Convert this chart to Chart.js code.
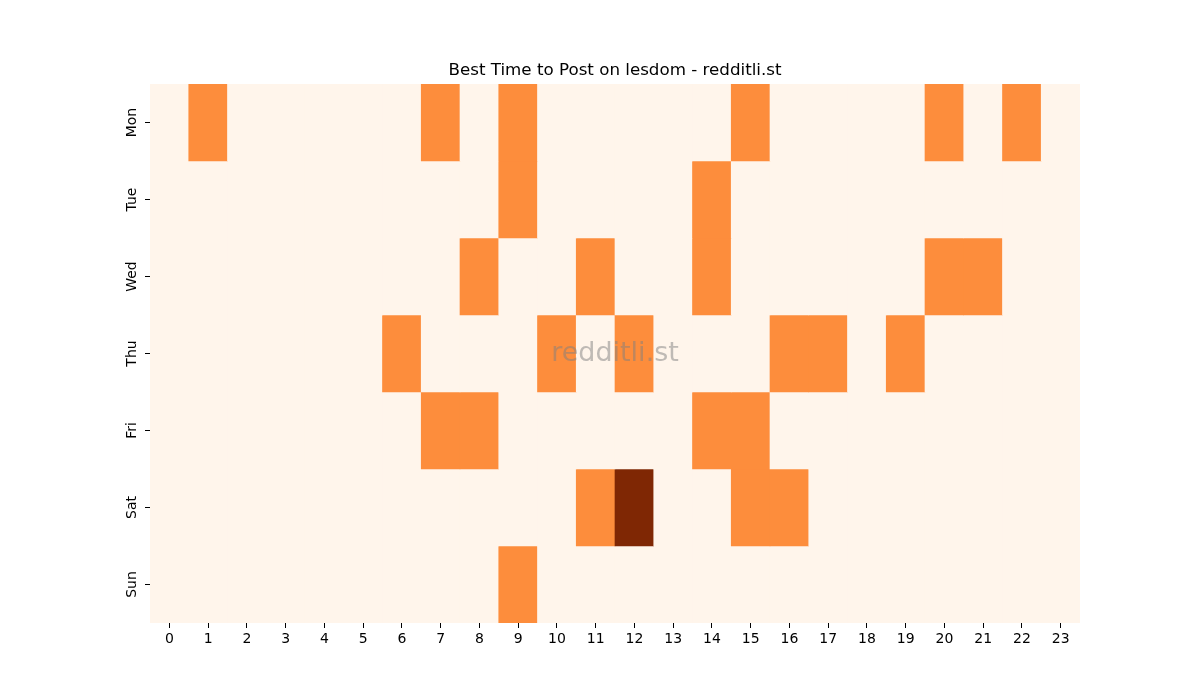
<!DOCTYPE html>
<html>
<head>
<meta charset="utf-8">
<script src="https://cdn.jsdelivr.net/npm/chart.js@4.4.0/dist/chart.umd.min.js"></script>
<style>
  html, body { margin: 0; padding: 0; background: #fff; }
  #wrap { width: 1200px; height: 700px; }
</style>
</head>
<body>
<div id="wrap"><canvas id="heat"></canvas></div>
<script>
// hours on x, days on y
var hours = ['0','1','2','3','4','5','6','7','8','9','10','11','12','13','14','15','16','17','18','19','20','21','22','23'];
var days = ['Mon', 'Tue', 'Wed', 'Thu', 'Fri', 'Sat', 'Sun'];

// posts per hour, one row per day
var mon = [0,1,0,0,0,0,0,1,0,1,0,0,0,0,0,1,0,0,0,0,1,0,1,0];
var tue = [0,0,0,0,0,0,0,0,0,1,0,0,0,0,1,0,0,0,0,0,0,0,0,0];
var wed = [0,0,0,0,0,0,0,0,1,0,0,1,0,0,1,0,0,0,0,0,1,1,0,0];
var thu = [0,0,0,0,0,0,1,0,0,0,1,0,1,0,0,0,1,1,0,1,0,0,0,0];
var fri = [0,0,0,0,0,0,0,1,1,0,0,0,0,0,1,1,0,0,0,0,0,0,0,0];
var sat = [0,0,0,0,0,0,0,0,0,0,0,1,2,0,0,1,1,0,0,0,0,0,0,0];
var sun = [0,0,0,0,0,0,0,0,0,1,0,0,0,0,0,0,0,0,0,0,0,0,0,0];

var rows = [mon, tue, wed, thu, fri, sat, sun];

// Oranges colormap, 0..2
var palette = ['#fff5eb', '#fd8d3c', '#7f2704'];

var datasets = rows.map(function(row, i) {
  return {
    label: days[i],
    data: row.map(function() { return 1; }),
    counts: row,
    backgroundColor: row.map(function(v) { return palette[v]; }),
    borderWidth: 0,
    barPercentage: 1.0,
    categoryPercentage: 1.0
  };
});

var watermark = {
  id: 'watermark',
  afterDatasetsDraw: function(chart) {
    var a = chart.chartArea;
    var c = chart.ctx;
    c.save();
    c.font = '27px "DejaVu Sans"';
    c.fillStyle = 'rgba(128,128,128,0.5)';
    c.textAlign = 'center';
    c.textBaseline = 'middle';
    c.fillText('redditli.st', (a.left + a.right) / 2, (a.top + a.bottom) / 2);
    c.restore();
  }
};

Chart.defaults.font.family = '"DejaVu Sans", sans-serif';
Chart.defaults.color = '#000';

new Chart(document.getElementById('heat'), {
  type: 'bar',
  data: { labels: hours, datasets: datasets },
  plugins: [watermark],
  options: {
    responsive: true,
    maintainAspectRatio: false,
    animation: false,
    layout: { padding: { left: 110, right: 80, top: 0, bottom: 47 } },
    plugins: {
      legend: { display: false },
      tooltip: { enabled: false },
      title: {
        display: true,
        text: 'Best Time to Post on lesdom - redditli.st',
        font: { size: 16.7, weight: 'normal' },
        color: '#000',
        padding: { top: 61, bottom: 3 }
      }
    },
    scales: {
      x: {
        stacked: true,
        border: { display: false },
        grid: { offset: false, drawOnChartArea: false, drawTicks: true, tickLength: 5, tickColor: '#000' },
        ticks: { font: { size: 14 }, padding: 3, maxRotation: 0, autoSkip: false },
        afterFit: function(s) { s.height = 30; }
      },
      y: {
        stacked: true,
        reverse: true,
        min: 0,
        max: 7,
        border: { display: false },
        grid: { drawOnChartArea: false, drawTicks: true, tickLength: 5, tickColor: '#000' },
        afterBuildTicks: function(s) {
          s.ticks = days.map(function(d, i) { return { value: i + 0.5 }; });
        },
        ticks: {
          font: { size: 14 },
          minRotation: 90,
          maxRotation: 90,
          crossAlign: 'center',
          padding: -3,
          callback: function(v) { return days[Math.floor(v)]; }
        },
        afterFit: function(s) { s.width = 40; }
      },
      // empty right-hand spacer so the title centres over the plot
      spacer: {
        position: 'right',
        min: 0,
        max: 7,
        border: { display: false },
        grid: { display: false },
        ticks: { display: false },
        afterFit: function(s) { s.width = 40; }
      }
    }
  }
});
</script>
</body>
</html>
